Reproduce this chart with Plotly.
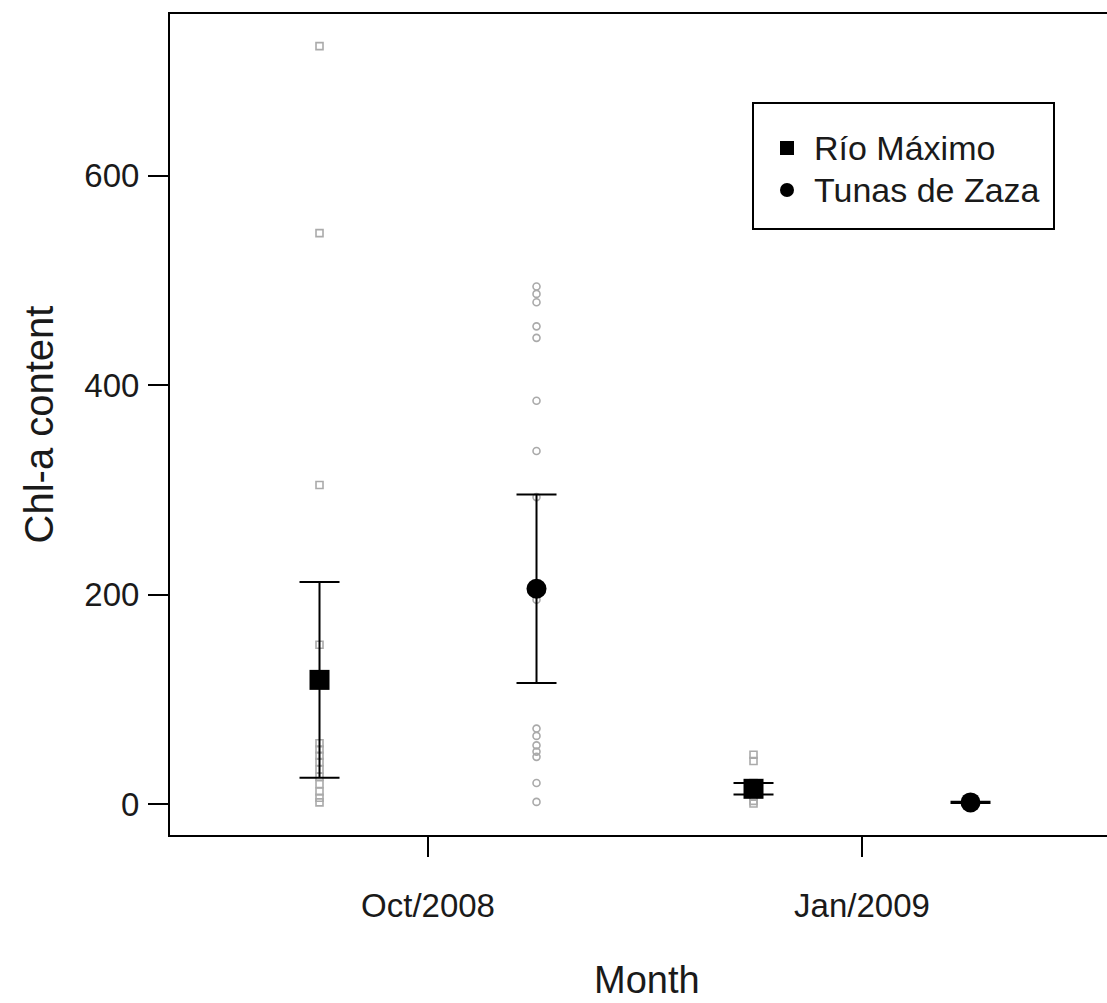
import plotly.graph_objects as go

# Sampling months and sites
months = ["Oct/2008", "Jan/2009"]
month_pos = [1, 2]
sites = ["Río Máximo", "Tunas de Zaza"]
site_offset = [-0.25, 0.25]

# Mean Chl-a content and standard errors per site and month
rio_mean = [118.5, 14.5]
rio_se = [93.5, 5.5]
tunas_mean = [205.5, 1.5]
tunas_se = [90.0, 0.6]

# Individual sample values
rio_oct_raw = [723.5, 545, 304.5, 152, 58, 52, 46, 40, 33, 26, 19, 12, 6, 1.5]
rio_jan_raw = [47, 41, 20, 15, 11, 7, 3, 0.5]
tunas_oct_raw = [494, 487, 479, 456, 445, 385, 337, 293, 195, 72, 65, 56, 50, 45, 20, 2]
tunas_jan_raw = [3, 2, 1.2, 0.6]

y_ticks = [0, 200, 400, 600]

FONT = "Liberation Sans, Arial, sans-serif"
TXT = "#1a1a1a"
RAW = "#aaaaaa"

# figure geometry (pixels)
W, H = 1107, 1003
ML, MT, MB = 170, 14, 168
PW, PH = W - ML, H - MT - MB


def px(x):
    return (x - ML) / PW


def py(y):
    return (H - MB - y) / PH


fig = go.Figure()

# raw samples (grey open symbols behind the means)
raw_sets = [
    (rio_oct_raw, 0, 0, "square-open"),
    (rio_jan_raw, 1, 0, "square-open"),
    (tunas_oct_raw, 0, 1, "circle-open"),
    (tunas_jan_raw, 1, 1, "circle-open"),
]
for vals, mi, si, sym in raw_sets:
    fig.add_trace(go.Scatter(
        x=[month_pos[mi] + site_offset[si]] * len(vals), y=vals,
        mode="markers", showlegend=False, hoverinfo="y",
        marker=dict(symbol=sym, size=7, color=RAW, line=dict(width=1.6, color=RAW)),
    ))

# means with error bars
for si, (mean, se, sym) in enumerate([(rio_mean, rio_se, "square"),
                                       (tunas_mean, tunas_se, "circle")]):
    fig.add_trace(go.Scatter(
        x=[p + site_offset[si] for p in month_pos], y=mean,
        mode="markers", name=sites[si], showlegend=False,
        marker=dict(symbol=sym, size=20, color="black"),
        error_y=dict(type="data", array=se, visible=True,
                     color="black", thickness=2, width=20),
    ))

# legend box drawn in paper space
legend_rows = [148, 190]
shapes = [dict(type="rect", xref="paper", yref="paper",
               x0=px(753), x1=px(1054), y0=py(229), y1=py(103),
               line=dict(color="black", width=2), fillcolor="white", layer="above")]
for row_y, kind in zip(legend_rows, ["rect", "circle"]):
    shapes.append(dict(type=kind, xref="paper", yref="paper",
                       xsizemode="pixel", ysizemode="pixel",
                       xanchor=px(787), yanchor=py(row_y),
                       x0=-7, x1=7, y0=-7, y1=7,
                       line=dict(width=0), fillcolor="black", layer="above"))

annotations = [dict(text=name, xref="paper", yref="paper", x=px(812), y=py(row_y),
                    xanchor="left", yanchor="middle", showarrow=False,
                    font=dict(size=34, family=FONT, color=TXT))
               for name, row_y in zip(sites, legend_rows)]
annotations.append(dict(
    text="Month", xref="paper", yref="paper", x=px(647), y=py(980),
    xanchor="center", yanchor="middle", showarrow=False,
    font=dict(size=38, family=FONT, color=TXT),
))

fig.update_layout(
    width=W, height=H,
    margin=dict(l=ML, r=0, t=MT, b=MB),
    paper_bgcolor="white", plot_bgcolor="white",
    font=dict(family=FONT, color=TXT, size=33),
    showlegend=False,
    xaxis=dict(
        range=[0.4055, 2.5645], tickvals=month_pos, ticktext=months,
        showgrid=False, zeroline=False, showline=True, linecolor="black", linewidth=2,
        mirror=True, ticks="outside", ticklen=20, tickwidth=2, tickcolor="black",
        ticklabelstandoff=20, tickfont=dict(size=33),
    ),
    yaxis=dict(
        range=[-29.6, 754.2], tickvals=y_ticks,
        showgrid=False, zeroline=False, showline=True, linecolor="black", linewidth=2,
        ticks="outside", ticklen=20, tickwidth=2, tickcolor="black",
        ticklabelstandoff=2, tickfont=dict(size=33),
        title=dict(text="Chl-a content", font=dict(size=40), standoff=18),
    ),
    shapes=shapes,
    annotations=annotations,
)

fig.write_html("out.html")
